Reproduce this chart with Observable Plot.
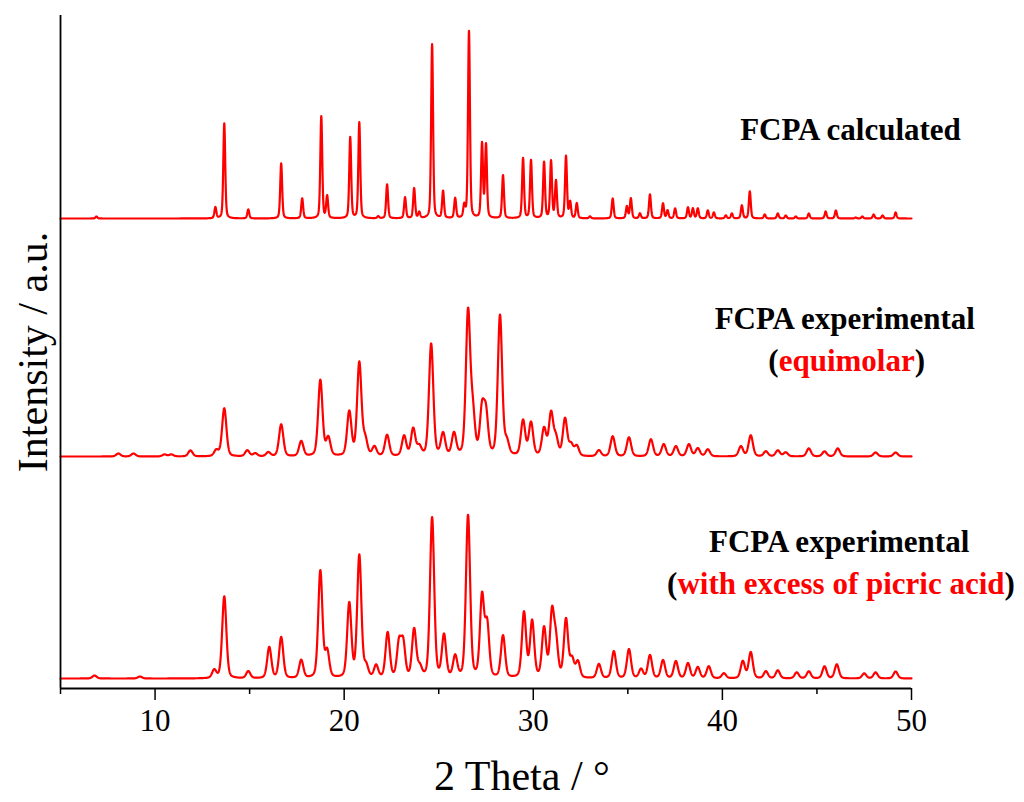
<!DOCTYPE html>
<html>
<head>
<meta charset="utf-8">
<script src="https://cdn.jsdelivr.net/npm/d3@7"></script>
<script src="https://cdn.jsdelivr.net/npm/@observablehq/plot@0.6"></script>
<style>
  html, body { margin: 0; padding: 0; background: #fff; }
  svg { display: block; }
</style>
</head>
<body>
<div id="chart"></div>
<script>
// ---------- DATA ----------
const seriesNames = ["FCPA calculated", "FCPA experimental (equimolar)", "FCPA experimental (with excess of picric acid)"];

// Calculated pattern: peak positions (2θ) and intensities (a.u.)
const calcPos = [6.9, 13.19, 13.66, 14.93, 16.67, 17.78, 18.79, 19.1, 20.32, 20.8, 21.8, 22.27, 23.22, 23.7, 23.97, 24.65, 25.23, 25.87, 26.35, 26.6, 27.29, 27.5, 28.4, 29.46, 29.88, 30.57, 30.94, 31.2, 31.73, 31.95, 32.3, 33.0, 34.2, 34.95, 35.16, 35.64, 36.17, 36.86, 37.1, 37.5, 38.18, 38.44, 38.7, 39.23, 39.55, 40.18, 40.5, 41.03, 41.45, 42.24, 42.93, 43.35, 43.88, 44.57, 45.46, 46.0, 47.05, 47.4, 48.0, 48.47, 49.16];
const calcInt = [2, 11, 95, 9, 55, 20, 102, 22, 81, 96, 2, 34, 21, 30, 6, 174, 27, 20, 12, 187, 74, 73, 43, 60, 58, 56, 57, 37, 62, 16, 15, 2, 20, 12, 20, 5, 24, 15, 8, 10, 11, 10, 10, 8, 6, 3, 5, 13, 27, 4, 5, 3, 2, 5, 7, 8, 1, 2, 4, 3, 6];

// Experimental (equimolar)
const equiPos = [8.06, 8.86, 10.5, 10.86, 11.87, 13.24, 13.66, 14.88, 15.3, 15.99, 16.67, 17.73, 18.74, 19.16, 20.27, 20.8, 21.11, 21.6, 22.27, 23.17, 23.65, 23.97, 24.6, 25.23, 25.81, 26.55, 26.8, 27.29, 27.5, 28.24, 28.6, 29.46, 29.88, 30.57, 30.94, 31.2, 31.68, 32.0, 32.3, 33.47, 34.2, 35.06, 36.22, 36.9, 37.54, 38.23, 38.7, 39.23, 40.98, 41.5, 42.3, 42.93, 43.35, 44.57, 45.4, 46.1, 48.1, 49.16];
const equiInt = [3, 3, 2, 2, 6, 6, 48, 6, 3, 4, 32, 15, 76, 18, 44, 93, 16, 9, 21, 20, 27, 9, 112, 22, 22, 142, 40, 44, 40, 140, 13, 35, 33, 27, 42, 17, 37, 11, 10, 6, 20, 19, 17, 12, 10, 12, 8, 7, 10, 21, 5, 6, 4, 8, 5, 8, 4, 4];

// Experimental (with excess of picric acid)
const excessPos = [6.8, 9.2, 13.13, 13.66, 14.93, 16.04, 16.67, 17.73, 18.74, 19.1, 20.27, 20.8, 21.16, 21.69, 22.3, 22.9, 23.12, 23.7, 24.0, 24.65, 25.28, 25.87, 26.55, 27.29, 27.56, 28.4, 29.51, 29.94, 30.57, 30.99, 31.2, 31.73, 32.05, 32.36, 33.47, 34.26, 35.06, 35.7, 36.17, 36.86, 37.54, 38.18, 38.7, 39.28, 40.08, 41.08, 41.5, 42.3, 42.93, 43.93, 44.57, 45.4, 46.05, 47.5, 48.1, 49.16];
const excessInt = [3, 2, 8, 82, 7, 31, 41, 18, 107, 26, 74, 122, 11, 12, 45, 34, 34, 48, 10, 160, 42, 21, 162, 80, 52, 42, 65, 56, 49, 63, 34, 58, 18, 16, 14, 27, 29, 9, 23, 18, 17, 15, 11, 12, 5, 17, 26, 7, 8, 6, 7, 12, 14, 5, 6, 7];

const xTicks = [10, 20, 30, 40, 50];
const xMinorTicks = [5, 15, 25, 35, 45];

// ---------- build line tables from the peak lists ----------
// vertical stacking of the three patterns (a.u.) and peak widths (deg)
const stack = [
  {name: seriesNames[0], pos: calcPos, int: calcInt, offset: 470, fwhm: 0.12, eta: 0.35},
  {name: seriesNames[1], pos: equiPos, int: equiInt, offset: 232, fwhm: 0.27, eta: 0.3},
  {name: seriesNames[2], pos: excessPos, int: excessInt, offset: 10, fwhm: 0.26, eta: 0.3}
];

function profile(x, x0, h, fwhm, eta) {
  const d = (x - x0) / fwhm;
  const g = Math.exp(-4 * Math.LN2 * d * d);
  const l = 1 / (1 + 4 * d * d);
  return h * (eta * l + (1 - eta) * g);
}

const rows = [];
for (const s of stack) {
  for (let i = 0; i <= 4500; i++) {
    const x = 5 + i * 0.01;
    let y = s.offset;
    for (let k = 0; k < s.pos.length; k++) {
      if (Math.abs(x - s.pos[k]) < 3) y += profile(x, s.pos[k], s.int[k], s.fwhm, s.eta);
    }
    rows.push({series: s.name, x, y});
  }
}

// ---------- chart ----------
const plot = Plot.plot({
  width: 1024,
  height: 802,
  marginLeft: 60,
  marginRight: 113,
  marginTop: 15,
  marginBottom: 114,
  style: {fontFamily: "'Liberation Serif', 'Times New Roman', serif", color: "black", background: "white", overflow: "visible"},
  x: {domain: [5, 50], axis: null},
  y: {domain: [0, 673], axis: null},
  marks: [
    Plot.line(rows, {x: "x", y: "y", z: "series", stroke: "#ff0000", strokeWidth: 2.2}),
    Plot.axisX({ticks: xTicks, tickSize: 12, tickPadding: 8, fontSize: 31, stroke: "black", strokeWidth: 1.5, label: null}),
    Plot.axisX({ticks: xMinorTicks, tickSize: 6, tickFormat: () => "", stroke: "black", strokeWidth: 1.5, label: null}),
    Plot.ruleY([0], {stroke: "black", strokeWidth: 1.8}),
    Plot.ruleX([5], {stroke: "black", strokeWidth: 1.8})
  ]
});

document.getElementById("chart").appendChild(plot);

const sx = plot.scale("x"), sy = plot.scale("y");
const svg = d3.select(plot);
const serif = "'Liberation Serif', 'Times New Roman', serif";

// axis titles
svg.append("text")
  .attr("x", 522).attr("y", 790)
  .attr("text-anchor", "middle")
  .attr("font-family", serif).attr("font-size", 42).attr("fill", "black")
  .text("2 Theta / °");

svg.append("text")
  .attr("transform", "translate(47,352) rotate(-90)")
  .attr("text-anchor", "middle")
  .attr("font-family", serif).attr("font-size", 42).attr("fill", "black")
  .text("Intensity / a.u.");

// annotations (placed in data coordinates)
const annotations = [
  {x: 46.8, y: 548, parts: [["FCPA calculated", "black"]]},
  {x: 46.5, y: 359, parts: [["FCPA experimental", "black"]]},
  {x: 46.6, y: 317, parts: [["(", "black"], ["equimolar", "#ff0000"], [")", "black"]]},
  {x: 46.2, y: 136, parts: [["FCPA experimental", "black"]]},
  {x: 46.3, y: 94, parts: [["(", "black"], ["with excess of picric acid", "#ff0000"], [")", "black"]]}
];
for (const a of annotations) {
  const t = svg.append("text")
    .attr("x", sx.apply(a.x)).attr("y", sy.apply(a.y))
    .attr("text-anchor", "middle")
    .attr("font-family", serif).attr("font-weight", "bold").attr("font-size", 31);
  for (const [txt, col] of a.parts) t.append("tspan").attr("fill", col).text(txt);
}
</script>
</body>
</html>
